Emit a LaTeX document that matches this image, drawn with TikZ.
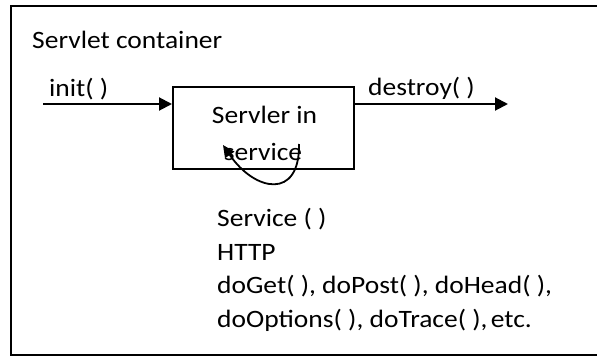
\documentclass[tikz,border=0pt]{standalone}
\usepackage{fontspec}
\setmainfont{Carlito}
\usetikzlibrary{arrows.meta}
% text in this drawing is set slightly wide
\newcommand\widetext[1]{\scalebox{1.10}[1]{#1}}
\begin{document}
\begin{tikzpicture}[x=1pt,y=-1pt,
  txt/.style={font=\fontsize{25}{30}\selectfont, inner sep=0pt, anchor=base west},
  flow/.style={line width=2pt, -{Triangle[length=13pt,width=13pt]}},
  loopline/.style={line width=1.8pt, -{Triangle[length=12pt,width=11pt]}},
  frame/.style={line width=2pt},
  servletbox/.style={draw, line width=2pt, minimum width=181pt, minimum height=82pt, inner sep=0pt},
]
\useasboundingbox (0,0) rectangle (597,356);
\clip (0,0) rectangle (597,356);

% container frame (open on the right)
\draw[frame] (620,6) -- (11,6) -- (11,354.5) -- (620,354.5);
\node[txt] (title) at (32,48) {\widetext{Servlet container}};

% servlet box and its label
\node[servletbox] (servlet) at (263.5,128) {};
\node[txt, anchor=base] (line1) at (264.5,123) {\widetext{Servler in}};
\node[txt, anchor=base] (line2) at (263,160) {\widetext{service}};

% lifecycle arrows
\coordinate (initstart) at (43,104);
\coordinate (destroyend) at (508,104);
\draw[flow] (initstart) -- (initstart -| servlet.west);
\draw[flow] ([xshift=-2pt]servlet.east |- destroyend) -- (destroyend);
\node[txt] (init) at (49,96) {\widetext{init( )}};
\node[txt] (destroy) at (368,95) {\widetext{destroy( )}};

% service loop
\coordinate (loopa) at (299,144);
\coordinate (loopb) at (223,145);
\draw[loopline] (loopa) .. controls (300,200) and (255,192) .. (loopb);

% request handling methods
\node[txt] (svc) at (217,226.5) {\widetext{Service ( )}};
\node[txt] (http) at (217,260) {\widetext{HTTP}};
\node[txt] (doget) at (217,293.5) {\widetext{doGet( ), doPost( ), doHead( ),}};
\node[txt] (doopt) at (217,327.5) {\widetext{doOptions( ), doTrace( ),\hspace{0.12em}etc.}};
\end{tikzpicture}
\end{document}
